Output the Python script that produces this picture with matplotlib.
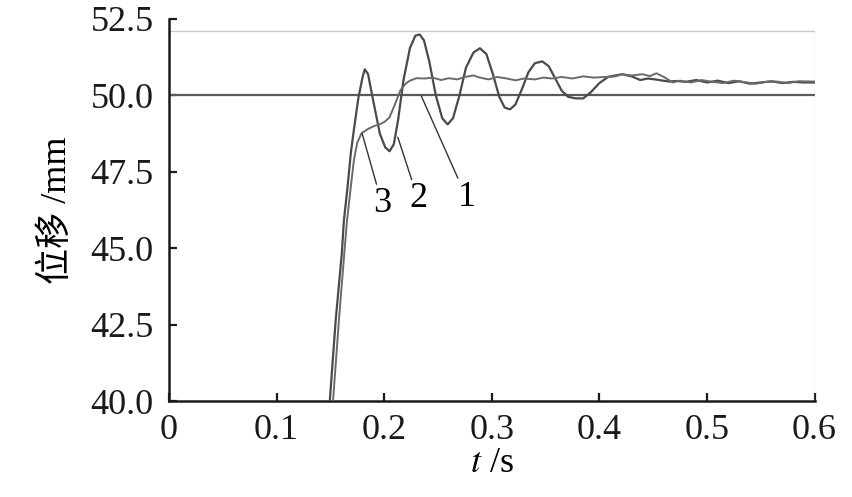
import numpy as np
import matplotlib.pyplot as plt

# curve 2: oscillating response (t in s, displacement in mm)
t2 = [0.1495, 0.1550, 0.1607, 0.1626, 0.1660, 0.1690, 0.1720, 0.1760, 0.1800, 0.1820,
      0.1850, 0.1900, 0.1960, 0.2010, 0.2050, 0.2090, 0.2130, 0.2180, 0.2240, 0.2290,
      0.2330, 0.2370, 0.2420, 0.2480, 0.2540, 0.2590, 0.2640, 0.2700, 0.2760, 0.2830,
      0.2890, 0.2950, 0.3010, 0.3070, 0.3120, 0.3170, 0.3220, 0.3280, 0.3340, 0.3400,
      0.3470, 0.3530, 0.3590, 0.3650, 0.3710, 0.3780, 0.3850, 0.3920, 0.4000, 0.4080,
      0.4150, 0.4210, 0.4300, 0.4380, 0.4450, 0.4520, 0.4590, 0.4650, 0.4720, 0.4800,
      0.4900, 0.5000, 0.5100, 0.5200, 0.5300, 0.5400, 0.5500, 0.5600, 0.5700, 0.5800,
      0.5900, 0.6000]
y2 = [40.0, 42.65, 44.84, 45.90, 47.00, 48.10, 48.90, 49.90, 50.60, 50.85,
      50.70, 49.80, 48.75, 48.30, 48.17, 48.40, 49.20, 50.50, 51.55, 51.95,
      51.99, 51.80, 51.10, 50.00, 49.25, 49.05, 49.25, 50.00, 50.90, 51.40,
      51.54, 51.35, 50.70, 49.95, 49.60, 49.54, 49.70, 50.20, 50.75, 51.05,
      51.11, 50.95, 50.55, 50.15, 49.95, 49.90, 49.90, 50.10, 50.40, 50.60,
      50.65, 50.69, 50.62, 50.50, 50.55, 50.52, 50.48, 50.45, 50.47, 50.44,
      50.50, 50.42, 50.48, 50.40, 50.46, 50.38, 50.42, 50.46, 50.40, 50.44,
      50.42, 50.42]

# curve 3: smooth response
t3 = [0.1525, 0.1580, 0.1630, 0.1655, 0.1690, 0.1720, 0.1750, 0.1790, 0.1850, 0.1910,
      0.1960, 0.2010, 0.2050, 0.2100, 0.2150, 0.2200, 0.2240, 0.2300, 0.2380, 0.2450,
      0.2530, 0.2600, 0.2680, 0.2750, 0.2830, 0.2890, 0.2970, 0.3050, 0.3140, 0.3220,
      0.3300, 0.3400, 0.3480, 0.3560, 0.3650, 0.3750, 0.3850, 0.3950, 0.4050, 0.4150,
      0.4210, 0.4300, 0.4400, 0.4470, 0.4530, 0.4600, 0.4680, 0.4750, 0.4850, 0.4950,
      0.5050, 0.5150, 0.5250, 0.5350, 0.5450, 0.5550, 0.5650, 0.5750, 0.5850, 0.6000]
y3 = [40.0, 42.65, 44.84, 45.90, 47.00, 47.90, 48.45, 48.76, 48.90, 49.00,
      49.05, 49.15, 49.28, 49.70, 50.16, 50.38, 50.48, 50.56, 50.55, 50.58,
      50.50, 50.56, 50.52, 50.60, 50.65, 50.58, 50.52, 50.60, 50.55, 50.49,
      50.55, 50.52, 50.58, 50.55, 50.60, 50.55, 50.62, 50.58, 50.60, 50.62,
      50.69, 50.65, 50.69, 50.63, 50.72, 50.60, 50.42, 50.48, 50.42, 50.50,
      50.44, 50.40, 50.48, 50.43, 50.38, 50.44, 50.45, 50.40, 50.46, 50.45]

# curve 1: reference step
ref_level = 50.0

xticks = [0, 0.1, 0.2, 0.3, 0.4, 0.5, 0.6]
yticks = [40.0, 42.5, 45.0, 47.5, 50.0, 52.5]

# label, text position, leader end point
labels = ['3', '2', '1']
label_xy = [(0.198, 47.0), (0.2315, 47.15), (0.2765, 47.2)]
label_tip = [(0.1795, 48.76), (0.2127, 48.63), (0.2345, 49.98)]

serif = ['Liberation Serif', 'Noto Sans CJK SC']
plt.rcParams['font.family'] = serif
plt.rcParams['mathtext.fontset'] = 'stix'

fig = plt.figure(figsize=(8.53, 4.97), dpi=100)
ax = fig.add_axes([0.198, 0.193, 0.757, 0.769])

ax.axhline(ref_level, color='#5a5a5a', lw=1.6, zorder=2)
ax.plot(t2, y2, color='#4a4a4a', lw=1.6, zorder=3)
ax.plot(t3, y3, color='#6a6a6a', lw=1.4, zorder=3)

# light plot-area frame (top and right)
ax.plot([0, 1], [0.969, 0.969], transform=ax.transAxes, color='#c8c8c8', lw=1.0)
ax.plot([1, 1], [0, 0.969], transform=ax.transAxes, color='#c8c8c8', lw=1.0)

for lab, (tx, ty), (px, py) in zip(labels, label_xy, label_tip):
    ax.annotate(lab, xy=(px, py), xytext=(tx, ty), fontsize=26,
                ha='center', va='top', family=serif,
                arrowprops=dict(arrowstyle='-', color='#333333', lw=1.0,
                                shrinkA=0, shrinkB=0))

ax.set_xlim(0, 0.6)
ax.set_ylim(40, 52.5)
ax.set_xticks(xticks)
ax.set_xticklabels(['0', '0.1', '0.2', '0.3', '0.4', '0.5', '0.6'])
ax.set_yticks(yticks)
ax.set_yticklabels([f'{v:.1f}' for v in yticks])
ax.tick_params(direction='in', length=6, width=1.6, labelsize=26, colors='#1a1a1a')
ax.tick_params(axis='y', pad=11)
ax.tick_params(axis='x', pad=9)

for s in ['top', 'right']:
    ax.spines[s].set_visible(False)
for s in ['left', 'bottom']:
    ax.spines[s].set_linewidth(1.8)
    ax.spines[s].set_color('#1a1a1a')

ax.set_xlabel('$t$ /s', fontsize=26, labelpad=0)
ax.set_ylabel('位移 /mm', fontsize=26, labelpad=12)

fig.savefig('out.png', dpi=100)
